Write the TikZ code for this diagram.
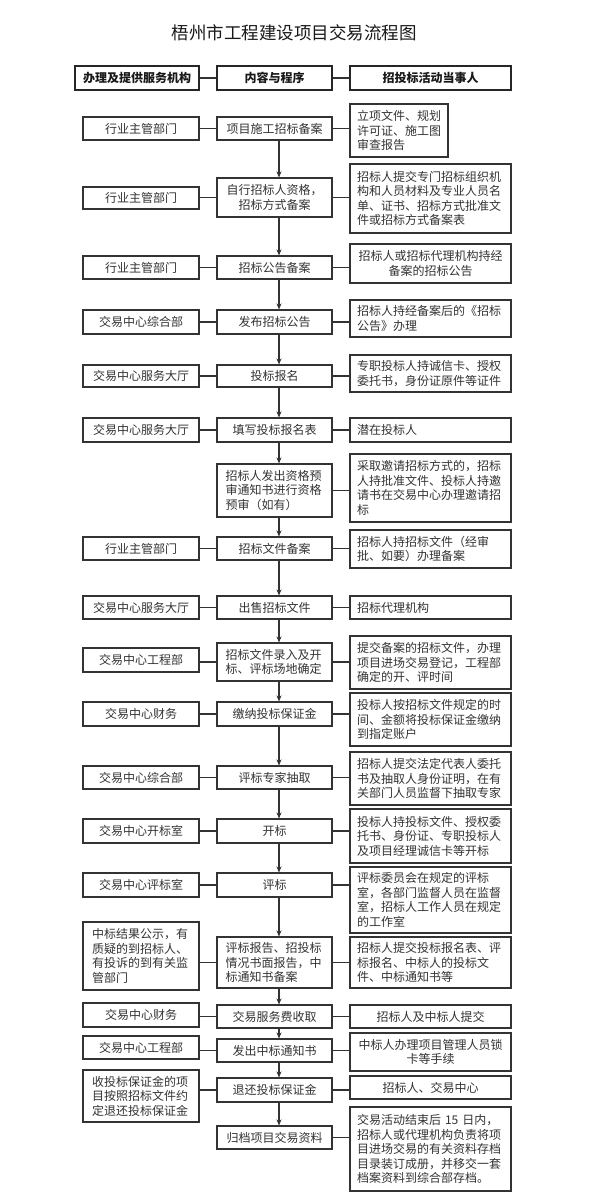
\documentclass[tikz,border=0pt]{standalone}
\usepackage{fontspec}
\setmainfont{Noto Sans CJK SC}
\usetikzlibrary{arrows.meta,calc}
\newcommand\cfs{\fontsize{12pt}{14.5pt}\selectfont}
\newcommand\tfs{\fontsize{17.5pt}{20pt}\selectfont}
\tikzset{
  box/.style={draw=black!80, line width=1.1pt, inner sep=0pt, font=\cfs, text=black!80},
  hbox/.style={draw=black!85, line width=1.6pt, inner sep=0pt, font=\cfs\bfseries, text=black!90, minimum height=24pt},
  lcol/.style={box, minimum width=116pt},
  mcol/.style={box, minimum width=115pt},
  rcol/.style={box, minimum width=161pt},
  lt/.style={align=left, text width=#1},
  ct/.style={align=center},
  link/.style={draw=black!80, line width=1.1pt},
  flow/.style={link, -{Stealth[length=6pt,width=5pt]}},
}
\begin{document}
\begin{tikzpicture}[x=1pt,y=-1pt]
\useasboundingbox[fill=white] (0,0) rectangle (590,1204);
% title
\node[font=\tfs, text=black!90, inner sep=0pt] (title) at (294,33) {梧州市工程建设项目交易流程图};
% header
\node[hbox, minimum width=124pt] (hl) at (137,78) {办理及提供服务机构};
\node[hbox, minimum width=115pt] (hm) at (274.5,78) {内容与程序};
\node[hbox, minimum width=161pt] (hr) at (430.5,78) {招投标活动当事人};
\draw[link] (hl.east) -- (hm.west);
\draw[link] (hm.east) -- (hr.west);
% row 1
\node[lcol, minimum height=23pt] (l1) at (141,128.5) {行业主管部门};
\node[mcol, minimum height=23pt] (m1) at (274.5,128.5) {项目施工招标备案};
\node[box, minimum width=98pt, minimum height=53pt, lt=84pt] (r1) at (399,130.5) {立项文件、规划\\许可证、施工图\\审查报告};
% row 2
\node[lcol, minimum height=22pt] (l2) at (141,198) {行业主管部门};
\node[mcol, minimum height=39pt, ct] (m2) at (274.5,197.5) {自行招标人资格，\\招标方式备案};
\node[rcol, minimum height=69pt, lt=147pt] (r2) at (430.5,198.5) {招标人提交专门招标组织机\\构和人员材料及专业人员名\\单、证书、招标方式批准文\\件或招标方式备案表};
% row 3
\node[lcol, minimum height=23pt] (l3) at (141,267.5) {行业主管部门};
\node[mcol, minimum height=23pt] (m3) at (274.5,267.5) {招标公告备案};
\node[rcol, minimum height=39pt, ct] (r3) at (430.5,263.5) {招标人或招标代理机构持经\\备案的招标公告};
% row 4
\node[lcol, minimum height=24pt] (l4) at (141,322) {交易中心综合部};
\node[mcol, minimum height=24pt] (m4) at (274.5,322) {发布招标公告};
\node[rcol, minimum height=37pt, lt=147pt] (r4) at (430.5,318.5) {招标人持经备案后的《招标\\公告》办理};
% row 5
\node[lcol, minimum height=22pt] (l5) at (141,376) {交易中心服务大厅};
\node[mcol, minimum height=22pt] (m5) at (274.5,376) {投标报名};
\node[rcol, minimum height=37pt, lt=147pt] (r5) at (430.5,373.5) {专职投标人持诚信卡、授权\\委托书，身份证原件等证件};
% row 6
\node[lcol, minimum height=24pt] (l6) at (141,430) {交易中心服务大厅};
\node[mcol, minimum height=24pt] (m6) at (274.5,430) {填写投标报名表};
\node[rcol, minimum height=24pt, lt=147pt] (r6) at (430.5,430) {潜在投标人};
% row 7
\node[mcol, minimum height=53pt, lt=98pt] (m7) at (274.5,490.5) {招标人发出资格预\\审通知书进行资格\\预审（如有）};
\node[rcol, minimum height=68pt, lt=147pt] (r7) at (430.5,488) {采取邀请招标方式的，招标\\人持批准文件、投标人持邀\\请书在交易中心办理邀请招\\标};
% row 8
\node[lcol, minimum height=23pt] (l8) at (141,548.5) {行业主管部门};
\node[mcol, minimum height=23pt] (m8) at (274.5,548.5) {招标文件备案};
\node[rcol, minimum height=38pt, lt=147pt] (r8) at (430.5,549) {招标人持招标文件（经审\\批、如要）办理备案};
% row 9
\node[lcol, minimum height=23pt] (l9) at (141,607.5) {交易中心服务大厅};
\node[mcol, minimum height=23pt] (m9) at (274.5,607.5) {出售招标文件};
\node[rcol, minimum height=23pt, lt=147pt] (r9) at (430.5,607.5) {招标代理机构};
% row 10
\node[lcol, minimum height=24pt] (l10) at (141,660) {交易中心工程部};
\node[mcol, minimum height=38pt, lt=98pt] (m10) at (274.5,662) {招标文件录入及开\\标、评标场地确定};
\node[rcol, minimum height=53pt, lt=147pt] (r10) at (430.5,662.5) {提交备案的招标文件，办理\\项目进场交易登记，工程部\\确定的开、评时间};
% row 11
\node[lcol, minimum height=24pt] (l11) at (141,714) {交易中心财务};
\node[mcol, minimum height=24pt] (m11) at (274.5,714) {缴纳投标保证金};
\node[rcol, minimum height=53pt, lt=147pt] (r11) at (430.5,719.5) {投标人按招标文件规定的时\\间、金额将投标保证金缴纳\\到指定账户};
% row 12
\node[lcol, minimum height=23pt] (l12) at (141,777.5) {交易中心综合部};
\node[mcol, minimum height=23pt] (m12) at (274.5,777.5) {评标专家抽取};
\node[rcol, minimum height=53pt, lt=147pt] (r12) at (430.5,778.5) {招标人提交法定代表人委托\\书及抽取人身份证明，在有\\关部门人员监督下抽取专家};
% row 13
\node[lcol, minimum height=24pt] (l13) at (141,831) {交易中心开标室};
\node[mcol, minimum height=24pt] (m13) at (274.5,831) {开标};
\node[rcol, minimum height=54pt, lt=147pt] (r13) at (430.5,836) {投标人持投标文件、授权委\\托书、身份证、专职投标人\\及项目经理诚信卡等开标};
% row 14
\node[lcol, minimum height=24pt] (l14) at (141,885) {交易中心评标室};
\node[mcol, minimum height=24pt] (m14) at (274.5,885) {评标};
\node[rcol, minimum height=66pt, lt=147pt] (r14) at (430.5,900) {评标委员会在规定的评标\\室，各部门监督人员在监督\\室，招标人工作人员在规定\\的工作室};
% row 15
\node[lcol, minimum height=68pt, lt=98pt] (l15) at (141,956) {中标结果公示，有\\质疑的到招标人、\\有投诉的到有关监\\管部门};
\node[mcol, minimum height=51pt, lt=98pt] (m15) at (274.5,962.5) {评标报告、招投标\\情况书面报告，中\\标通知书备案};
\node[rcol, minimum height=51pt, lt=147pt] (r15) at (430.5,962.5) {招标人提交投标报名表、评\\标报名、中标人的投标文\\件、中标通知书等};
% row 16
\node[lcol, minimum height=24pt] (l16) at (141,1015) {交易中心财务};
\node[mcol, minimum height=23pt] (m16) at (274.5,1016.5) {交易服务费收取};
\node[rcol, minimum height=23pt] (r16) at (430.5,1016.5) {招标人及中标人提交};
% row 17
\node[lcol, minimum height=23pt] (l17) at (141,1047.5) {交易中心工程部};
\node[mcol, minimum height=23pt] (m17) at (274.5,1050.5) {发出中标通知书};
\node[rcol, minimum height=38pt, ct] (r17) at (430.5,1052) {中标人办理项目管理人员锁\\卡等手续};
% row 18
\node[lcol, minimum height=52pt, lt=98pt] (l18) at (141,1096) {收投标保证金的项\\目按照招标文件约\\定退还投标保证金};
\node[mcol, minimum height=24pt] (m18) at (274.5,1090) {退还投标保证金};
\node[rcol, minimum height=23pt] (r18) at (430.5,1087.5) {招标人、交易中心};
% row 19
\node[mcol, minimum height=23pt] (m19) at (274.5,1137.5) {归档项目交易资料};
\node[rcol, minimum height=84pt, lt=147pt] (r19) at (430.5,1149) {交易活动结束后 15 日内，\\招标人或代理机构负责将项\\目进场交易的有关资料存档\\目录装订成册，并移交一套\\档案资料到综合部存档。};
% left connectors
\foreach \i in {1,2,3,4,5,6,8,9,10,11,12,13,14,15,16,17,18}
  \draw[link] (l\i.east |- m\i.center) -- (m\i.west);
% right connectors
\foreach \i in {1,...,19}
  \draw[link] (m\i.east) -- (r\i.west |- m\i.center);
% flow arrows
\foreach \a/\b in {1/2,2/3,3/4,4/5,5/6,6/7,7/8,8/9,9/10,10/11,11/12,12/13,13/14,14/15,15/16,16/17,17/18,18/19}
  \draw[flow] ([xshift=4.5pt]m\a.south) -- ([xshift=4.5pt]m\b.north);
\end{tikzpicture}
\end{document}
